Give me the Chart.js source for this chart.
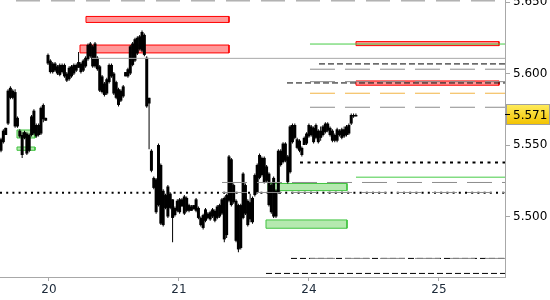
<!DOCTYPE html>
<html>
<head>
<meta charset="utf-8">
<script src="https://cdn.jsdelivr.net/npm/chart.js@4/dist/chart.umd.min.js"></script>
<style>
  html, body { margin: 0; padding: 0; background: #fff; }
  canvas { display: block; }
</style>
</head>
<body>
<canvas id="c" width="550" height="300"></canvas>
<script>
// Session days on the time axis (weekend removed)
const dayLabels = ['20', '21', '24', '25'];
const dayPositions = [0, 1, 2, 3];
const priceTicks = [5.500, 5.550, 5.600, 5.650];

// Bar timing, in session days counted from the 20th
const barStart = -0.3692;
const barStep = 0.01808;

// Candles
const high = [
  5.555,5.561,5.562,5.589,5.591,5.589,5.589,5.570,5.561,5.559,
  5.560,5.559,5.558,5.571,5.575,5.565,5.565,5.577,5.579,5.569,
  5.614,5.610,5.608,5.608,5.606,5.607,5.607,5.607,5.601,5.605,
  5.606,5.607,5.607,5.615,5.608,5.610,5.612,5.621,5.622,5.620,
  5.622,5.612,5.606,5.599,5.594,5.597,5.607,5.607,5.601,5.595,
  5.590,5.589,5.592,5.601,5.604,5.620,5.622,5.625,5.626,5.627,
  5.630,5.628,5.612,5.583,5.547,5.528,5.527,5.551,5.537,5.519,
  5.516,5.522,5.517,5.512,5.507,5.512,5.513,5.513,5.515,5.514,
  5.509,5.508,5.508,5.513,5.507,5.500,5.502,5.506,5.503,5.504,
  5.506,5.505,5.508,5.509,5.513,5.514,5.516,5.543,5.541,5.523,
  5.512,5.509,5.509,5.531,5.523,5.512,5.516,5.514,5.530,5.537,
  5.544,5.542,5.542,5.536,5.531,5.523,5.528,5.519,5.547,5.547,
  5.552,5.552,5.543,5.564,5.565,5.565,5.555,5.554,5.549,5.556,
  5.559,5.565,5.564,5.563,5.565,5.561,5.563,5.564,5.566,5.566,
  5.563,5.561,5.558,5.562,5.561,5.562,5.563,5.564,5.565,5.572,
  5.572,5.572
];
const low = [
  5.545,5.551,5.557,5.564,5.582,5.582,5.562,5.562,5.555,5.541,
  5.554,5.543,5.545,5.556,5.557,5.555,5.556,5.557,5.566,5.567,
  5.606,5.600,5.600,5.601,5.599,5.598,5.600,5.597,5.594,5.595,
  5.597,5.599,5.601,5.604,5.600,5.601,5.604,5.609,5.611,5.604,
  5.604,5.602,5.587,5.586,5.584,5.585,5.593,5.597,5.585,5.582,
  5.577,5.580,5.583,5.598,5.597,5.599,5.605,5.608,5.613,5.616,
  5.615,5.612,5.576,5.547,5.531,5.519,5.502,5.507,5.494,5.493,
  5.505,5.499,5.505,5.482,5.500,5.503,5.502,5.507,5.501,5.503,
  5.503,5.504,5.505,5.503,5.498,5.493,5.491,5.496,5.498,5.497,
  5.499,5.496,5.498,5.499,5.501,5.482,5.485,5.510,5.507,5.509,
  5.482,5.475,5.477,5.498,5.501,5.493,5.496,5.495,5.514,5.516,
  5.526,5.528,5.523,5.524,5.507,5.502,5.499,5.499,5.516,5.535,
  5.537,5.538,5.523,5.530,5.551,5.554,5.547,5.545,5.542,5.550,
  5.550,5.555,5.556,5.551,5.554,5.551,5.553,5.556,5.558,5.559,
  5.556,5.552,5.552,5.552,5.556,5.554,5.555,5.556,5.557,5.564,
  5.569,5.570
];
const open = [
  5.546,5.552,5.557,5.565,5.590,5.588,5.587,5.569,5.560,5.543,
  5.559,5.558,5.546,5.557,5.574,5.564,5.557,5.558,5.578,5.569,
  5.613,5.609,5.601,5.607,5.600,5.606,5.606,5.606,5.595,5.596,
  5.598,5.600,5.602,5.608,5.601,5.602,5.605,5.610,5.621,5.605,
  5.621,5.611,5.605,5.598,5.585,5.586,5.594,5.606,5.600,5.594,
  5.578,5.581,5.584,5.598,5.598,5.600,5.606,5.609,5.614,5.617,
  5.629,5.627,5.611,5.583,5.546,5.527,5.526,5.508,5.536,5.494,
  5.515,5.500,5.516,5.512,5.501,5.504,5.512,5.507,5.514,5.504,
  5.508,5.504,5.505,5.512,5.506,5.499,5.492,5.497,5.502,5.498,
  5.500,5.504,5.499,5.500,5.502,5.513,5.487,5.511,5.540,5.522,
  5.511,5.477,5.508,5.499,5.522,5.494,5.510,5.496,5.515,5.517,
  5.527,5.541,5.541,5.535,5.530,5.522,5.500,5.518,5.517,5.546,
  5.538,5.551,5.542,5.531,5.564,5.564,5.554,5.553,5.543,5.550,
  5.551,5.556,5.563,5.552,5.564,5.552,5.560,5.557,5.559,5.565,
  5.562,5.560,5.553,5.553,5.560,5.555,5.561,5.557,5.558,5.565,
  5.571,5.570
];
const close = [
  5.554,5.560,5.562,5.588,5.583,5.583,5.563,5.563,5.556,5.557,
  5.555,5.544,5.557,5.570,5.558,5.556,5.564,5.576,5.568,5.567,
  5.607,5.601,5.607,5.602,5.605,5.599,5.601,5.598,5.600,5.604,
  5.605,5.606,5.606,5.604,5.607,5.609,5.611,5.620,5.612,5.619,
  5.605,5.603,5.588,5.587,5.593,5.596,5.606,5.598,5.586,5.583,
  5.589,5.588,5.591,5.601,5.603,5.619,5.621,5.624,5.625,5.626,
  5.616,5.613,5.577,5.579,5.532,5.520,5.503,5.550,5.495,5.518,
  5.506,5.521,5.506,5.499,5.506,5.511,5.503,5.512,5.502,5.513,
  5.504,5.507,5.508,5.504,5.499,5.494,5.501,5.505,5.499,5.503,
  5.505,5.497,5.507,5.508,5.512,5.484,5.515,5.542,5.508,5.510,
  5.483,5.508,5.478,5.530,5.502,5.511,5.498,5.513,5.529,5.536,
  5.543,5.529,5.524,5.525,5.508,5.503,5.527,5.500,5.546,5.536,
  5.551,5.539,5.524,5.563,5.552,5.555,5.548,5.546,5.548,5.555,
  5.558,5.564,5.557,5.562,5.555,5.560,5.555,5.563,5.565,5.560,
  5.557,5.553,5.557,5.561,5.557,5.561,5.556,5.563,5.564,5.571,
  5.570,5.571
];

// Horizontal price levels: price, start time (they run to the right edge), kind
const levelPrice = [5.6508, 5.6106, 5.6067, 5.6206, 5.6030, 5.5943, 5.5934, 5.5862, 5.5764,
                    5.5377, 5.5275, 5.5238, 5.5168, 5.5167, 5.4707, 5.4707, 5.4602];
const levelFrom  = [-0.2538, 0.3308, 2.0769, 2.0077, 2.0077, 2.0077, 1.8308, 2.0077, 2.0077,
                    1.9308, 2.3615, 1.3308, 1.3308, -0.3769, 2.0077, 1.8615, 1.6692];
const levelKind  = ['grid', 'plain', 'dash', 'green', 'long', 'long', 'dash', 'orange', 'long',
                    'dot', 'green', 'long', 'long', 'dotFine', 'long', 'dash', 'dash'];

// Supply / demand zones
const zoneTop    = [5.6399, 5.6199, 5.6223, 5.5948, 5.5231, 5.4976, 5.5605, 5.5486];
const zoneBottom = [5.6357, 5.6144, 5.6195, 5.5918, 5.5181, 5.4918, 5.5549, 5.5463];
const zoneFrom   = [0.2846, 0.2385, 2.3615, 2.3615, 1.6846, 1.6692, -0.2462, -0.2462];
const zoneTo     = [1.3846, 1.3846, 3.4615, 3.4615, 2.2923, 2.2923, -0.1077, -0.1077];
const zoneSide   = ['sell', 'sell', 'sell', 'sell', 'buy', 'buy', 'buy', 'buy'];

const X_MIN = -0.3769, X_MAX = 3.5077;
const Y_MIN = 5.4577, Y_MAX = 5.6514;

const LEVEL_STYLE = {
  grid:    { color: '#8a8a8a', dash: [24, 11], width: 1 },
  plain:   { color: '#a8a8a8', dash: [],       width: 1 },
  dash:    { color: '#000000', dash: [6, 3],   width: 1 },
  green:   { color: '#46cc46', dash: [],       width: 1 },
  long:    { color: '#8c8c8c', dash: [25, 10], width: 1 },
  orange:  { color: '#f2b443', dash: [25, 10], width: 1 },
  dot:     { color: '#000000', dash: [3, 4.5], width: 2 },
  dotFine: { color: '#000000', dash: [2, 4.2], width: 2 }
};
const ZONE_STYLE = {
  sell: { fill: 'rgba(255, 70, 70, 0.55)', border: '#ff0000' },
  buy:  { fill: 'rgba(120, 215, 110, 0.55)', border: '#40c440' }
};

const barTime = i => barStart + i * barStep;

const wickData = high.map((h, i) => ({ x: barTime(i), y: [low[i], h] }));
const bodyData = open.map((o, i) => ({ x: barTime(i), y: [o, close[i]] }));

const zoneSets = zoneTop.map((t, i) => {
  const b = zoneBottom[i], a = zoneFrom[i], z = zoneTo[i];
  const st = ZONE_STYLE[zoneSide[i]];
  return {
    type: 'line',
    data: [{ x: a, y: t }, { x: z, y: t }, { x: z, y: b }, { x: a, y: b }, { x: a, y: t }],
    fill: 'shape',
    backgroundColor: st.fill,
    borderColor: st.border,
    borderWidth: 1,
    pointRadius: 0,
    tension: 0,
    order: 3
  };
});

const levelSets = levelPrice.map((p, i) => {
  const st = LEVEL_STYLE[levelKind[i]];
  return {
    type: 'line',
    data: [{ x: levelFrom[i], y: p }, { x: X_MAX, y: p }],
    borderColor: st.color,
    borderDash: st.dash,
    borderWidth: st.width,
    pointRadius: 0,
    fill: false,
    tension: 0,
    order: 1
  };
});

// Last-price tag on the price axis
const priceTag = {
  id: 'priceTag',
  afterDraw(chart) {
    const { ctx, chartArea, scales: { y } } = chart;
    const last = close[close.length - 1];
    const py = Math.round(y.getPixelForValue(last)) - 0.5;
    const x0 = chartArea.right + 1.5, x1 = chart.width - 0.5;
    const g = ctx.createLinearGradient(0, py - 10, 0, py + 10);
    g.addColorStop(0, '#ffec5c');
    g.addColorStop(1, '#f2c200');
    ctx.save();
    ctx.fillStyle = g;
    ctx.fillRect(x0, py - 10, x1 - x0, 20);
    ctx.strokeStyle = '#a0a0a0';
    ctx.lineWidth = 1;
    ctx.strokeRect(x0, py - 10, x1 - x0, 20);
    ctx.strokeStyle = '#000';
    ctx.beginPath();
    ctx.moveTo(chartArea.right, py);
    ctx.lineTo(chartArea.right + 5, py);
    ctx.stroke();
    ctx.fillStyle = '#000';
    ctx.font = '12px "DejaVu Sans"';
    ctx.textBaseline = 'middle';
    ctx.textAlign = 'left';
    ctx.fillText(last.toFixed(3), chartArea.right + 8, py + 1);
    ctx.restore();
  }
};

new Chart(document.getElementById('c'), {
  type: 'bar',
  data: {
    datasets: [
      ...zoneSets,
      {
        data: wickData, backgroundColor: '#000', barThickness: 1,
        grouped: false, borderWidth: 0, inflateAmount: 0, order: 2
      },
      {
        data: bodyData, backgroundColor: '#000', barThickness: 3,
        grouped: false, borderWidth: 0, inflateAmount: 0, order: 2
      },
      ...levelSets
    ]
  },
  options: {
    responsive: false,
    devicePixelRatio: 1,
    animation: false,
    events: [],
    layout: { padding: 0 },
    plugins: { legend: { display: false }, tooltip: { enabled: false } },
    scales: {
      x: {
        type: 'linear',
        min: X_MIN,
        max: X_MAX,
        offset: false,
        afterBuildTicks: ax => { ax.ticks = dayPositions.map(v => ({ value: v })); },
        afterFit: ax => { ax.height = 23; ax.paddingLeft = 0; ax.paddingRight = 0; },
        ticks: {
          callback: v => dayLabels[dayPositions.indexOf(v)],
          color: '#1c2a3a',
          font: { family: 'DejaVu Sans', size: 12 },
          padding: 2,
          maxRotation: 0,
          autoSkip: false
        },
        grid: { drawOnChartArea: false, tickLength: 4, color: '#a8a8a8', offset: false },
        border: { color: '#a8a8a8' }
      },
      y: {
        type: 'linear',
        position: 'right',
        min: Y_MIN,
        max: Y_MAX,
        beginAtZero: false,
        afterBuildTicks: ax => { ax.ticks = priceTicks.map(v => ({ value: v })); },
        afterFit: ax => { ax.width = 45; ax.paddingTop = 0; ax.paddingBottom = 0; },
        ticks: {
          callback: v => v.toFixed(3),
          color: '#000',
          font: { family: 'DejaVu Sans', size: 12 },
          padding: 3,
          autoSkip: false
        },
        grid: { drawOnChartArea: false, tickLength: 5, color: '#a8a8a8' },
        border: { color: '#a8a8a8' }
      }
    }
  },
  plugins: [priceTag]
});
</script>
</body>
</html>
